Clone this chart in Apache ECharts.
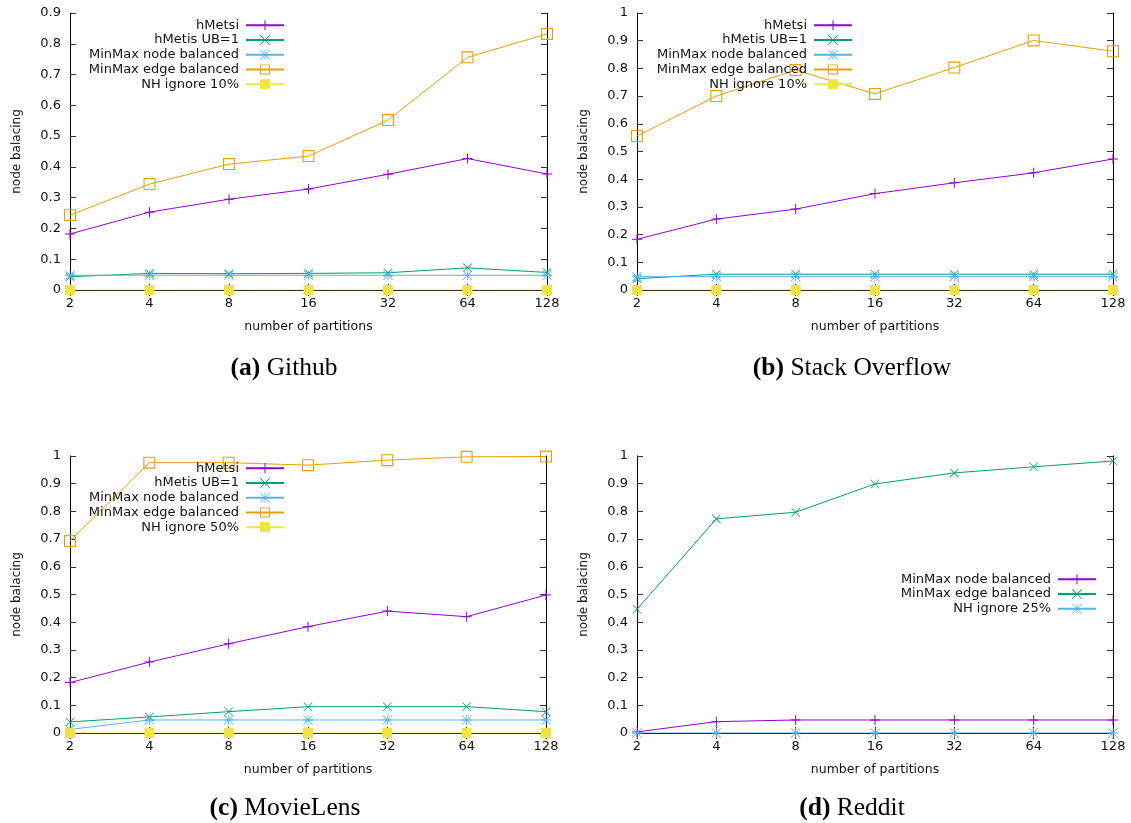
<!DOCTYPE html>
<html>
<head>
<meta charset="utf-8">
<title>node balancing</title>
<script src="https://cdn.jsdelivr.net/npm/echarts@6/dist/echarts.min.js"></script>
<style>
  html, body { margin: 0; padding: 0; background: #fff; }
  #chart { width: 1131px; height: 823px; }
</style>
</head>
<body>
<div id="chart"></div>
<script>
// x categories (number of partitions)
const partitions = ['2', '4', '8', '16', '32', '64', '128'];

// (a) Github
const ghHMetsi = [0.182, 0.253, 0.295, 0.328, 0.376, 0.427, 0.377];
const ghHMetisUB1 = [0.043, 0.054, 0.053, 0.054, 0.056, 0.072, 0.057];
const ghMinMaxNode = [0.048, 0.048, 0.048, 0.048, 0.048, 0.048, 0.048];
const ghMinMaxEdge = [0.243, 0.344, 0.409, 0.435, 0.552, 0.756, 0.832];
const ghNHIgnore10 = [0, 0, 0, 0, 0, 0, 0];

// (b) Stack Overflow
const soHMetsi = [0.183, 0.256, 0.292, 0.348, 0.387, 0.423, 0.473];
const soHMetisUB1 = [0.041, 0.057, 0.057, 0.057, 0.057, 0.057, 0.057];
const soMinMaxNode = [0.048, 0.048, 0.048, 0.048, 0.048, 0.048, 0.048];
const soMinMaxEdge = [0.556, 0.70, 0.794, 0.708, 0.803, 0.901, 0.862];
const soNHIgnore10 = [0, 0, 0, 0, 0, 0, 0];

// (c) MovieLens
const mlHMetsi = [0.182, 0.256, 0.322, 0.384, 0.44, 0.42, 0.498];
const mlHMetisUB1 = [0.040, 0.058, 0.077, 0.095, 0.095, 0.095, 0.077];
const mlMinMaxNode = [0.013, 0.047, 0.047, 0.047, 0.047, 0.047, 0.047];
const mlMinMaxEdge = [0.693, 0.976, 0.976, 0.967, 0.985, 0.997, 0.998];
const mlNHIgnore50 = [0, 0, 0, 0, 0, 0, 0];

// (d) Reddit
const rdMinMaxNode = [0.004, 0.041, 0.047, 0.047, 0.047, 0.047, 0.047];
const rdMinMaxEdge = [0.447, 0.773, 0.797, 0.899, 0.939, 0.961, 0.982];
const rdNHIgnore25 = [0, 0, 0, 0, 0, 0, 0];

const yTicksA = [0, 0.9];   // min / max of panel (a)
const yTicksOther = [0, 1];

// gnuplot-like colours and point types
const C = { purple: '#9400d3', green: '#009e73', blue: '#56b4e9', orange: '#e69f00', yellow: '#f0e442' };
const SYM = {
  plus: 'path://M0,4.5H10V5.5H0Z M4.5,0H5.5V10H4.5Z',
  cross: 'path://M0.6,0L10,9.4L9.4,10L0,0.6Z M9.4,0L10,0.6L0.6,10L0,9.4Z',
  star: 'path://M0,4.6H10V5.4H0Z M4.6,0H5.4V10H4.6Z M0.6,0L10,9.4L9.4,10L0,0.6Z M9.4,0L10,0.6L0.6,10L0,9.4Z',
  // hollow square, thin outline (inner square wound the other way)
  box: 'path://M0,0H11V11H0Z M1,1V10H10V1Z',
  fbox: 'rect'
};
const FONT = 'DejaVu Sans';

const panels = [
  {
    key: 'a', caption: 'Github', left: 70, top: 13, width: 477, yRange: yTicksA,
    capX: 284, capY: 355, legTop: 18, legRight: 846,
    series: [
      ['hMetsi', ghHMetsi, C.purple, 'plus'],
      ['hMetis UB=1', ghHMetisUB1, C.green, 'cross'],
      ['MinMax node balanced', ghMinMaxNode, C.blue, 'star'],
      ['MinMax edge balanced', ghMinMaxEdge, C.orange, 'box'],
      ['NH ignore 10%', ghNHIgnore10, C.yellow, 'fbox']
    ]
  },
  {
    key: 'b', caption: 'Stack Overflow', left: 637, top: 13, width: 476, yRange: yTicksOther,
    capX: 852, capY: 355, legTop: 18, legRight: 278,
    series: [
      ['hMetsi', soHMetsi, C.purple, 'plus'],
      ['hMetis UB=1', soHMetisUB1, C.green, 'cross'],
      ['MinMax node balanced', soMinMaxNode, C.blue, 'star'],
      ['MinMax edge balanced', soMinMaxEdge, C.orange, 'box'],
      ['NH ignore 10%', soNHIgnore10, C.yellow, 'fbox']
    ]
  },
  {
    key: 'c', caption: 'MovieLens', left: 70, top: 456, width: 476, yRange: yTicksOther,
    capX: 285, capY: 795, legTop: 461, legRight: 846,
    series: [
      ['hMetsi', mlHMetsi, C.purple, 'plus'],
      ['hMetis UB=1', mlHMetisUB1, C.green, 'cross'],
      ['MinMax node balanced', mlMinMaxNode, C.blue, 'star'],
      ['MinMax edge balanced', mlMinMaxEdge, C.orange, 'box'],
      ['NH ignore 50%', mlNHIgnore50, C.yellow, 'fbox']
    ]
  },
  {
    key: 'd', caption: 'Reddit', left: 637, top: 456, width: 476, yRange: yTicksOther,
    capX: 852, capY: 795, legTop: 572, legRight: 34,
    series: [
      ['MinMax node balanced', rdMinMaxNode, C.purple, 'plus'],
      ['MinMax edge balanced', rdMinMaxEdge, C.green, 'cross'],
      ['NH ignore 25%', rdNHIgnore25, C.blue, 'star']
    ]
  }
];

const grid = [], xAxis = [], yAxis = [], series = [], legend = [], title = [];
const tickStyle = { inside: true, length: 6, lineStyle: { color: '#333', width: 1 } };
const lineStyle = { lineStyle: { color: '#000', width: 1 } };

panels.forEach((p, gi) => {
  grid.push({ left: p.left, top: p.top, width: p.width, height: 277 });

  const xi = xAxis.length;
  xAxis.push({
    gridIndex: gi, type: 'category', data: partitions, boundaryGap: false,
    axisLine: lineStyle, axisTick: tickStyle,
    axisLabel: { fontFamily: FONT, fontSize: 13, color: '#111', margin: 7 },
    name: 'number of partitions', nameLocation: 'middle', nameGap: 30,
    nameTextStyle: { fontFamily: FONT, fontSize: 12.5, color: '#111' }
  });
  xAxis.push({
    gridIndex: gi, type: 'category', data: partitions, boundaryGap: false, position: 'top',
    axisLine: lineStyle, axisTick: tickStyle, axisLabel: { show: false }
  });

  const yi = yAxis.length;
  yAxis.push({
    gridIndex: gi, type: 'value', min: p.yRange[0], max: p.yRange[1], interval: 0.1,
    axisLine: { show: true, lineStyle: { color: '#000', width: 1 } }, axisTick: { show: true, ...tickStyle },
    splitLine: { show: false },
    axisLabel: { fontFamily: FONT, fontSize: 13, color: '#111', margin: 9,
      formatter: v => String(+v.toFixed(1)) },
    name: 'node balacing', nameLocation: 'middle', nameGap: 47, nameRotate: 90,
    nameTextStyle: { fontFamily: FONT, fontSize: 12, color: '#111' }
  });
  yAxis.push({
    gridIndex: gi, type: 'value', min: p.yRange[0], max: p.yRange[1], interval: 0.1, position: 'right',
    axisLine: { show: true, lineStyle: { color: '#000', width: 1 } }, axisTick: { show: true, ...tickStyle },
    splitLine: { show: false }, axisLabel: { show: false }
  });

  const names = [];
  p.series.forEach(([name, values, color, sym]) => {
    const full = p.key + '|' + name;
    names.push(full);
    const isBox = sym === 'box';
    series.push({
      name: full, type: 'line', xAxisIndex: xi, yAxisIndex: yi, data: values,
      symbol: SYM[sym], symbolSize: sym === 'cross' ? 9 : (isBox ? 12 : 10), showAllSymbol: true,
      color: color,
      lineStyle: { color: color, width: 1 },
      itemStyle: { color: color, borderWidth: 0 },
      emphasis: { disabled: true },
      animation: false
    });
  });

  legend.push({
    data: names, orient: 'vertical', align: 'right', right: p.legRight, top: p.legTop,
    itemWidth: 38, itemHeight: 12.5, itemGap: 0, padding: 0, selectedMode: false,
    formatter: n => n.split('|')[1],
    textStyle: { fontFamily: FONT, fontSize: 13, color: '#111', lineHeight: 14.7, padding: [0, 2, 0, 0] }
  });

  title.push({
    text: '{b|(' + p.key + ')} ' + p.caption,
    left: p.capX, top: p.capY, textAlign: 'center', padding: 0,
    textStyle: {
      fontFamily: 'Liberation Serif', fontSize: 25.5, fontWeight: 'normal', color: '#000',
      rich: { b: { fontFamily: 'Liberation Serif', fontSize: 25.5, fontWeight: 'bold', color: '#000' } }
    }
  });
});

const chart = echarts.init(document.getElementById('chart'));
chart.setOption({
  animation: false,
  backgroundColor: '#fff',
  title: title,
  grid: grid,
  xAxis: xAxis,
  yAxis: yAxis,
  legend: legend,
  series: series
});
</script>
</body>
</html>
